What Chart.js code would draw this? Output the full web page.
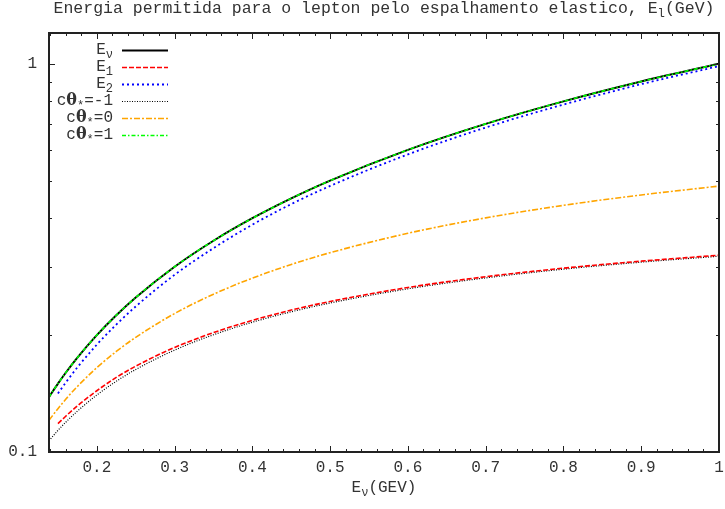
<!DOCTYPE html>
<html>
<head>
<meta charset="utf-8">
<script src="https://cdn.jsdelivr.net/npm/chart.js@4/dist/chart.umd.min.js"></script>
<style>
  html, body { margin: 0; padding: 0; background: #fff; }
  #wrap { width: 725px; height: 509px; }
</style>
</head>
<body>
<div id="wrap"><canvas id="chart" width="725" height="509"></canvas></div>
<script>
/* ── data ────────────────────────────────────────────────── */
const X_VALUES = [0.1385, 0.15, 0.16, 0.175, 0.2, 0.225, 0.25, 0.3, 0.35, 0.4, 0.45, 0.5, 0.6, 0.7, 0.8, 0.9, 1.0];

const E_NU     = [0.1385, 0.15, 0.16, 0.175, 0.2, 0.225, 0.25, 0.3, 0.35, 0.4, 0.45, 0.5, 0.6, 0.7, 0.8, 0.9, 1.0];
const E_1      = [null, 0.1183, 0.1236, 0.1315, 0.1438, 0.1556, 0.1664, 0.1859, 0.2030, 0.2183, 0.2320, 0.2442, 0.2653, 0.2828, 0.2975, 0.3101, 0.3212];
const E_2      = [null, 0.1415, 0.1509, 0.1652, 0.189, 0.2129, 0.237, 0.286, 0.335, 0.385, 0.435, 0.4845, 0.584, 0.685, 0.785, 0.886, 0.986];
const C_MINUS1 = [0.1069, 0.1137, 0.1193, 0.1274, 0.1402, 0.1521, 0.1631, 0.1830, 0.2004, 0.2159, 0.2297, 0.2420, 0.2632, 0.2808, 0.2957, 0.3083, 0.3193];
const C_ZERO   = [0.1207, 0.1293, 0.1367, 0.1475, 0.1649, 0.1815, 0.1974, 0.2273, 0.2549, 0.2804, 0.3041, 0.3261, 0.3659, 0.4009, 0.4318, 0.4593, 0.4840];
const C_PLUS1  = [0.1385, 0.15, 0.16, 0.175, 0.2, 0.225, 0.25, 0.3, 0.35, 0.4, 0.45, 0.5, 0.6, 0.7, 0.8, 0.9, 1.0];

// axis ticks
const X_MAJOR = [0.2, 0.3, 0.4, 0.5, 0.6, 0.7, 0.8, 0.9, 1.0];
const X_MAJOR_LABELS = ['0.2', '0.3', '0.4', '0.5', '0.6', '0.7', '0.8', '0.9', '1'];
const X_MINOR = [0.14, 0.16, 0.18, 0.22, 0.24, 0.26, 0.28, 0.32, 0.34, 0.36, 0.38, 0.42, 0.44, 0.46, 0.48,
                 0.52, 0.54, 0.56, 0.58, 0.62, 0.64, 0.66, 0.68, 0.72, 0.74, 0.76, 0.78,
                 0.82, 0.84, 0.86, 0.88, 0.92, 0.94, 0.96, 0.98];
const Y_MAJOR = [0.1, 1];
const Y_MAJOR_LABELS = ['0.1', '1'];
const Y_MINOR = [0.2, 0.3, 0.4, 0.5, 0.6, 0.7, 0.8, 0.9];

const TITLE = [{ t: 'Energia permitida para o lepton pelo espalhamento elastico, E' }, { t: 'l', sub: true }, { t: '(GeV)' }];
const X_LABEL = [{ t: 'E' }, { t: 'ν', sub: true }, { t: '(GEV)' }];

const MONO = '"Liberation Mono", "DejaVu Sans Mono", monospace';
const TEXT = '#333';

function pts(arr) {
  return X_VALUES.map((x, i) => ({ x, y: arr[i] }));
}

// draws a run of text pieces (with subscripts) starting at x, baseline-middle at y
function richWidth(ctx, parts, size) {
  let w = 0;
  parts.forEach(p => {
    ctx.font = `${p.bold ? 'bold ' : ''}${p.sub ? size * 0.75 : size}px ${p.font || MONO}`;
    w += ctx.measureText(p.t).width;
  });
  return w;
}
function drawRich(ctx, parts, x, y, size, align) {
  const w = richWidth(ctx, parts, size);
  if (align === 'center') x -= w / 2;
  if (align === 'right') x -= w;
  ctx.textBaseline = 'middle';
  ctx.textAlign = 'left';
  ctx.fillStyle = TEXT;
  parts.forEach(p => {
    const s = p.sub ? size * 0.75 : size;
    ctx.font = `${p.bold ? 'bold ' : ''}${s}px ${p.font || MONO}`;
    ctx.fillText(p.t, x, p.sub ? y + size * 0.3 : y);
    x += ctx.measureText(p.t).width;
  });
}

const LEGEND_LABELS = [
  [{ t: 'E' }, { t: 'ν', sub: true }],
  [{ t: 'E' }, { t: '1', sub: true }],
  [{ t: 'E' }, { t: '2', sub: true }],
  [{ t: 'c' }, { t: 'θ', bold: true, font: '"DejaVu Serif", serif' }, { t: '*', sub: true }, { t: '=-1' }],
  [{ t: 'c' }, { t: 'θ', bold: true, font: '"DejaVu Serif", serif' }, { t: '*', sub: true }, { t: '=0' }],
  [{ t: 'c' }, { t: 'θ', bold: true, font: '"DejaVu Serif", serif' }, { t: '*', sub: true }, { t: '=1' }],
];

// gnuplot-like frame: inward ticks on all four sides, labels, title, key
const gnuFrame = {
  id: 'gnuFrame',
  afterDraw(chart) {
    const { ctx, chartArea: a, scales } = chart;
    const xs = scales.x, ys = scales.y;
    ctx.save();

    ctx.strokeStyle = '#222';
    ctx.lineWidth = 1;
    const tick = (px, len, vertical) => {
      ctx.beginPath();
      if (vertical) {
        ctx.moveTo(px, a.bottom); ctx.lineTo(px, a.bottom - len);
        ctx.moveTo(px, a.top); ctx.lineTo(px, a.top + len);
      } else {
        ctx.moveTo(a.left, px); ctx.lineTo(a.left + len, px);
        ctx.moveTo(a.right, px); ctx.lineTo(a.right - len, px);
      }
      ctx.stroke();
    };
    X_MAJOR.forEach(v => tick(Math.round(xs.getPixelForValue(v)) + 0.5, 6, true));
    X_MINOR.forEach(v => tick(Math.round(xs.getPixelForValue(v)) + 0.5, 3, true));
    Y_MAJOR.forEach(v => tick(Math.round(ys.getPixelForValue(v)) + 0.5, 6, false));
    Y_MINOR.forEach(v => tick(Math.round(ys.getPixelForValue(v)) + 0.5, 3, false));

    ctx.lineWidth = 2;
    ctx.strokeRect(a.left, a.top, a.right - a.left, a.bottom - a.top);

    // tick labels
    ctx.fillStyle = TEXT;
    ctx.font = `16px ${MONO}`;
    ctx.textBaseline = 'middle';
    ctx.textAlign = 'center';
    X_MAJOR.forEach((v, i) => ctx.fillText(X_MAJOR_LABELS[i], xs.getPixelForValue(v), a.bottom + 16));
    ctx.textAlign = 'right';
    Y_MAJOR.forEach((v, i) => ctx.fillText(Y_MAJOR_LABELS[i], a.left - 12, ys.getPixelForValue(v)));

    // title and axis label
    const cx = (a.left + a.right) / 2;
    drawRich(ctx, TITLE, cx, 9, 16.5, 'center');
    drawRich(ctx, X_LABEL, cx, a.bottom + 36, 16, 'center');

    // key
    chart.data.datasets.forEach((ds, i) => {
      const y = 50 + i * 17;
      drawRich(ctx, LEGEND_LABELS[i], 113, y, 16, 'right');
      ctx.strokeStyle = ds.borderColor;
      ctx.lineWidth = ds.borderWidth;
      ctx.setLineDash(ds.borderDash || []);
      ctx.beginPath();
      ctx.moveTo(122, y + 0.5);
      ctx.lineTo(168, y + 0.5);
      ctx.stroke();
    });
    ctx.setLineDash([]);
    ctx.restore();
  }
};

const ctx = document.getElementById('chart').getContext('2d');
new Chart(ctx, {
  type: 'line',
  data: {
    datasets: [
      { label: 'E_nu',  data: pts(E_NU),     borderColor: '#000000', borderWidth: 2,   order: 5 },
      { label: 'E_1',   data: pts(E_1),      borderColor: '#ff0000', borderWidth: 1.6, borderDash: [5, 2], order: 3 },
      { label: 'E_2',   data: pts(E_2),      borderColor: '#0000ff', borderWidth: 1.8, borderDash: [2, 3], order: 2 },
      { label: 'c=-1',  data: pts(C_MINUS1), borderColor: '#000000', borderWidth: 1.2, borderDash: [1, 1.5], order: 4 },
      { label: 'c=0',   data: pts(C_ZERO),   borderColor: '#ffa500', borderWidth: 1.6, borderDash: [6, 2, 2, 2], order: 1 },
      { label: 'c=1',   data: pts(C_PLUS1),  borderColor: '#00ff00', borderWidth: 1.6, borderDash: [4, 2, 1.5, 2], order: 0 },
    ]
  },
  options: {
    responsive: false,
    animation: false,
    layout: { padding: { left: 49, top: 33, right: 6, bottom: 57 } },
    elements: {
      point: { radius: 0 },
      line: { cubicInterpolationMode: 'monotone', fill: false }
    },
    plugins: {
      legend: { display: false },
      title: { display: false },
      tooltip: { enabled: false }
    },
    scales: {
      x: { type: 'linear', min: 0.1385, max: 1.0, display: false },
      y: { type: 'logarithmic', min: 0.1, max: 1.2, display: false }
    }
  },
  plugins: [gnuFrame]
});
</script>
</body>
</html>
